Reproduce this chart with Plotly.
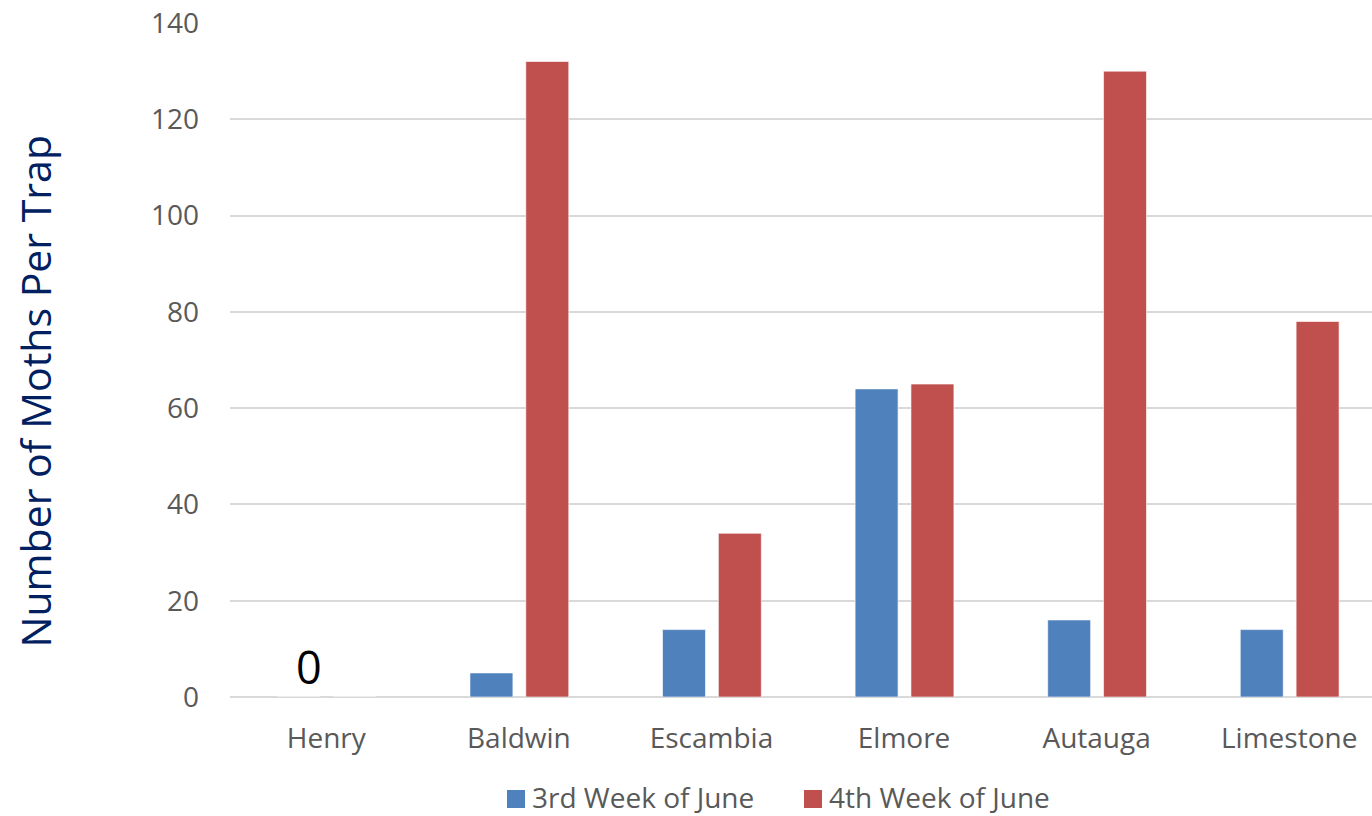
import plotly.graph_objects as go

# Moth trap counts by county
counties = ["Henry", "Baldwin", "Escambia", "Elmore", "Autauga", "Limestone"]
week3 = [0, 5, 14, 64, 16, 14]
week4 = [0, 132, 34, 65, 130, 78]
series_names = ["3rd Week of June", "4th Week of June"]
y_ticks = [0, 20, 40, 60, 80, 100, 120, 140]
y_title = "Number of Moths Per Trap"

BLUE = "#4F81BD"
RED = "#C0504D"
GREY = "#595959"
NAVY = "#002060"
FONT = "Open Sans"

fig = go.Figure()
for vals, name, color, off in [(week3, series_names[0], BLUE, -0.254),
                               (week4, series_names[1], RED, 0.036)]:
    fig.add_trace(go.Bar(
        x=counties, y=vals, name=name, showlegend=False,
        marker=dict(color=color, line=dict(color="rgba(255,255,255,0.6)", width=1)),
        width=0.223, offset=off,
    ))

# value label for Henry
fig.add_annotation(
    x=counties[0], y=week3[0], text=str(week3[0]), showarrow=False,
    xshift=-17, yanchor="bottom", yshift=-2,
    font=dict(family=FONT, size=45, color="#000000"),
)

# y-axis title, placed slightly below the plot's vertical centre
fig.add_annotation(
    xref="paper", yref="paper", x=-0.171, y=0.453,
    text=y_title, textangle=-90, showarrow=False,
    xanchor="center", yanchor="middle",
    font=dict(family=FONT, size=41, color=NAVY),
)

# legend below the axis: square swatch followed by series name
legend_items = [(series_names[0], BLUE, 0.24256), (series_names[1], RED, 0.50263)]
sw_w = 0.01576
for name, color, x0 in legend_items:
    fig.add_shape(
        type="rect", xref="paper", yref="paper",
        x0=x0, x1=x0 + sw_w, y0=-0.1647, y1=-0.1380,
        fillcolor=color, line=dict(width=0),
    )
    fig.add_annotation(
        xref="paper", yref="paper", x=x0 + sw_w + 0.0055, y=-0.1491,
        text=name, showarrow=False, xanchor="left", yanchor="middle",
        borderpad=0,
        font=dict(family=FONT, size=28, color=GREY),
    )

fig.update_layout(
    width=1372, height=816,
    margin=dict(l=230, r=0, t=23, b=119, autoexpand=False),
    paper_bgcolor="white", plot_bgcolor="white",
    barmode="group",
    font=dict(family=FONT, color=GREY, size=28),
    showlegend=False,
    xaxis=dict(
        type="category", range=[-0.5, 5.43],
        showgrid=False, zeroline=False, showline=False,
        ticks="", ticklabelstandoff=22, tickangle=0, automargin=False,
        tickfont=dict(family=FONT, size=28, color=GREY),
    ),
    yaxis=dict(
        range=[0, 140], tickvals=y_ticks,
        showgrid=True, gridcolor="#D9D9D9", gridwidth=2,
        zeroline=True, zerolinecolor="#D9D9D9", zerolinewidth=2,
        showline=False, ticks="", ticklabelstandoff=30, automargin=False,
        tickfont=dict(family=FONT, size=28, color=GREY),
    ),
)

fig.write_html("out.html")
